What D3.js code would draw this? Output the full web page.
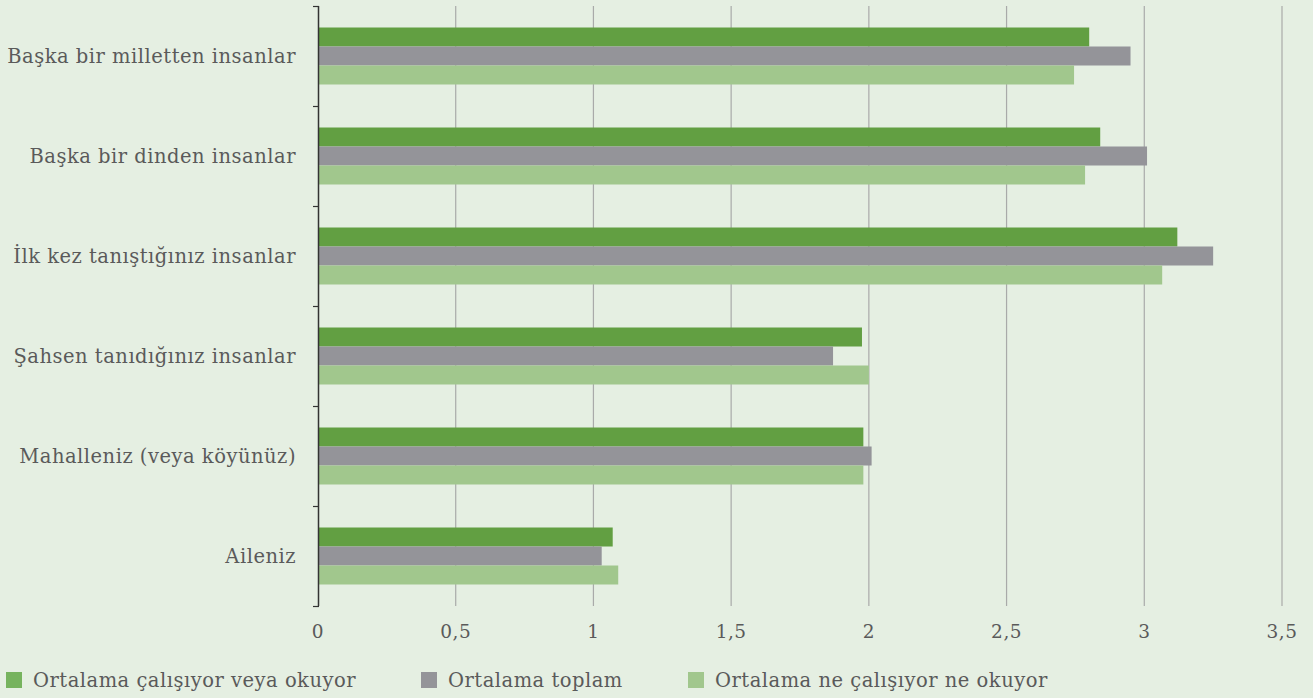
<!DOCTYPE html>
<html><head><meta charset="utf-8">
<script src="https://cdn.jsdelivr.net/npm/d3@7"></script>
<style>
html,body{margin:0;padding:0;background:#e5efe2;}
svg{display:block;}
text{font-family:"DejaVu Serif",serif;fill:#5a5a5a;letter-spacing:0.5px;}
</style></head><body>
<svg id="c" width="1313" height="698"></svg>
<script>
const categories = ["Başka bir milletten insanlar","Başka bir dinden insanlar","İlk kez tanıştığınız insanlar","Şahsen tanıdığınız insanlar","Mahalleniz (veya köyünüz)","Aileniz"];
const seriesNames = ["Ortalama çalışıyor veya okuyor","Ortalama toplam","Ortalama ne çalışıyor ne okuyor"];
const calisiyor = [2.80, 2.84, 3.12, 1.975, 1.98, 1.07];
const toplam    = [2.95, 3.01, 3.25, 1.87, 2.01, 1.03];
const neNe      = [2.745, 2.785, 3.065, 2.00, 1.98, 1.09];
const xTicks = [0,0.5,1,1.5,2,2.5,3,3.5];
const xTickLabels = ["0","0,5","1","1,5","2","2,5","3","3,5"];

const seriesValues = [calisiyor, toplam, neNe];
const colors = ["#629f42","#949499","#a1c78d"];
const legendColors = ["#76b35e","#949499","#a1c78d"];

const svg = d3.select("#c");
const x = d3.scaleLinear().domain([0,3.5]).range([318,1282]);
const y = d3.scaleBand().domain(categories).range([6,606]).padding(0);
const ys = d3.scaleBand().domain(d3.range(3)).range([21.5,78.5]).padding(0);

// gridlines
svg.append("g").selectAll("line").data(xTicks.slice(1)).join("line")
  .attr("x1",d=>x(d)).attr("x2",d=>x(d)).attr("y1",6).attr("y2",606)
  .attr("stroke","#a9aaa9").attr("stroke-width",1.2);

// bars
const rows = [];
categories.forEach((c,i)=>seriesValues.forEach((s,j)=>rows.push({c,j,v:s[i]})));
svg.append("g").selectAll("rect").data(rows).join("rect")
  .attr("x",x(0)).attr("y",d=>y(d.c)+ys(d.j))
  .attr("width",d=>x(d.v)-x(0)).attr("height",ys.bandwidth())
  .attr("fill",d=>colors[d.j]);

// y axis line & ticks
const ay = svg.append("g");
ay.append("line").attr("x1",318.5).attr("x2",318.5).attr("y1",6).attr("y2",606).attr("stroke","#333").attr("stroke-width",1.5);
const bounds = categories.map(c=>y(c)).concat([y.range()[1]]);
ay.selectAll("line.t").data(bounds).join("line").attr("class","t")
  .attr("x1",313).attr("x2",319).attr("y1",d=>d+0.5).attr("y2",d=>d+0.5).attr("stroke","#333").attr("stroke-width",1.2);

// category labels
svg.append("g").selectAll("text").data(categories).join("text")
  .attr("x",296).attr("y",d=>y(d)+y.bandwidth()/2).attr("dy","0.35em")
  .attr("text-anchor","end").attr("font-size",19.5).text(d=>d);

// x tick labels
svg.append("g").selectAll("text").data(xTicks).join("text")
  .attr("x",d=>x(d)).attr("y",632).attr("dy","0.35em").attr("text-anchor","middle")
  .attr("font-size",18.5).text((d,i)=>xTickLabels[i]);

// legend
const legX = [6,421,688];
const lg = svg.append("g").selectAll("g").data(seriesNames).join("g")
  .attr("transform",(d,i)=>`translate(${legX[i]},672)`);
lg.append("rect").attr("width",16).attr("height",16).attr("fill",(d,i)=>legendColors[i]);
lg.append("text").attr("x",27).attr("y",8).attr("dy","0.35em").attr("font-size",19.5).text(d=>d);
</script></body></html>
